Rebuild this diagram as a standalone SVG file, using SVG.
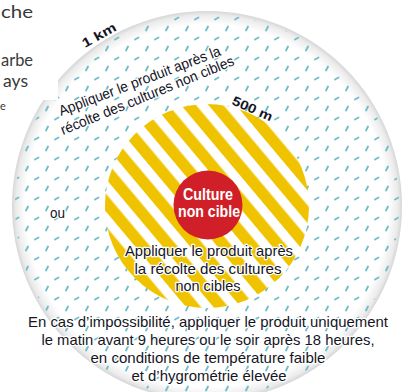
<svg xmlns="http://www.w3.org/2000/svg" width="404" height="392" viewBox="0 0 404 392">
  <style>
    .lbl { font-family: "Liberation Sans Narrow", "Liberation Sans", Arial, sans-serif; fill: #15151f; }
    .halo { stroke: #ffffff; stroke-width: 2.5; stroke-linejoin: round; paint-order: stroke fill; }
    .bold { font-weight: bold; }
    .page { font-family: Lato, "Open Sans", sans-serif; fill: #3a3a3a; }
    .dash { stroke: #72bfcb; stroke-width: 1.9; stroke-linecap: round; }
  </style>
  <defs>
    <radialGradient id="rim" cx="207" cy="206" r="195" gradientUnits="userSpaceOnUse">
      <stop offset="0" stop-color="#ffffff"/>
      <stop offset="0.93" stop-color="#ffffff"/>
      <stop offset="0.98" stop-color="#ebebeb"/>
      <stop offset="1" stop-color="#d6d6d6"/>
    </radialGradient>
    <pattern id="dashes" width="20" height="20" patternUnits="userSpaceOnUse" x="2" y="3">
      <line class="dash" x1="4" y1="7.5" x2="6" y2="3.5"/>
      <line class="dash" x1="13" y1="16.5" x2="16.5" y2="14.5"/>
    </pattern>
    <pattern id="stripes" width="21" height="21" patternUnits="userSpaceOnUse" patternTransform="rotate(-40 207 206)">
      <rect x="0" y="0" width="21" height="21" fill="#ffffff"/>
      <rect x="0" y="0" width="11.5" height="21" fill="#f0c300"/>
    </pattern>
  </defs>

  <rect x="0" y="0" width="404" height="392" fill="#ffffff"/>

  <g id="zone-1km">
    <circle cx="207" cy="206" r="195" fill="url(#rim)"/>
    <circle cx="207" cy="206" r="192" fill="url(#dashes)"/>
  </g>

  <g id="zone-500m">
    <circle cx="207" cy="206" r="102" fill="url(#stripes)"/>
  </g>

  <g id="culture-non-cible">
    <circle cx="208" cy="205" r="34.5" fill="#d01f28"/>
    <text class="lbl bold" x="208" y="200" font-size="16" text-anchor="middle" style="fill:#ffffff" textLength="50" lengthAdjust="spacingAndGlyphs">Culture</text>
    <text class="lbl bold" x="209" y="217" font-size="16" text-anchor="middle" style="fill:#ffffff" textLength="62" lengthAdjust="spacingAndGlyphs">non cible</text>
  </g>

  <g id="labels">
    <text class="lbl bold" transform="translate(85,48) rotate(-29)" font-size="13" textLength="37" lengthAdjust="spacingAndGlyphs">1 km</text>
    <text class="lbl bold" transform="translate(231,104) rotate(24)" font-size="13" textLength="43" lengthAdjust="spacingAndGlyphs">500 m</text>
    <text class="lbl halo" transform="translate(61,116) rotate(-20.8)" font-size="14.5" textLength="172" lengthAdjust="spacingAndGlyphs">Appliquer le produit après la</text>
    <text class="lbl halo" transform="translate(63,135) rotate(-22.2)" font-size="14.5" textLength="186" lengthAdjust="spacingAndGlyphs">récolte des cultures non cibles</text>
    <text class="lbl halo" x="50" y="218" font-size="14" textLength="15" lengthAdjust="spacingAndGlyphs">ou</text>
    <g text-anchor="middle" font-size="15">
      <text class="lbl halo" x="209" y="256" textLength="168" lengthAdjust="spacingAndGlyphs">Appliquer le produit après</text>
      <text class="lbl halo" x="208" y="274" textLength="147" lengthAdjust="spacingAndGlyphs">la récolte des cultures</text>
      <text class="lbl halo" x="208" y="291" textLength="65" lengthAdjust="spacingAndGlyphs">non cibles</text>
    </g>
    <g text-anchor="middle" font-size="15">
      <text class="lbl halo" x="208" y="327" textLength="360" lengthAdjust="spacingAndGlyphs">En cas d’impossibilité, appliquer le produit uniquement</text>
      <text class="lbl halo" x="208" y="345" textLength="333" lengthAdjust="spacingAndGlyphs">le matin avant 9 heures ou le soir après 18 heures,</text>
      <text class="lbl halo" x="208" y="363" textLength="235" lengthAdjust="spacingAndGlyphs">en conditions de température faible</text>
      <text class="lbl halo" x="209" y="381" textLength="155" lengthAdjust="spacingAndGlyphs">et d’hygrométrie élevée</text>
    </g>
  </g>

  <g id="page-fragment">
    <rect x="0" y="0" width="58" height="100" fill="#ffffff"/>
    <text class="page" x="1" y="18" font-size="18" textLength="32" lengthAdjust="spacingAndGlyphs">che</text>
    <text class="page" x="1" y="66" font-size="18" textLength="32" lengthAdjust="spacingAndGlyphs">arbe</text>
    <text class="page" x="3" y="87" font-size="18" textLength="25" lengthAdjust="spacingAndGlyphs">ays</text>
    <text class="page" x="0" y="110" font-size="11">e</text>
  </g>
</svg>
